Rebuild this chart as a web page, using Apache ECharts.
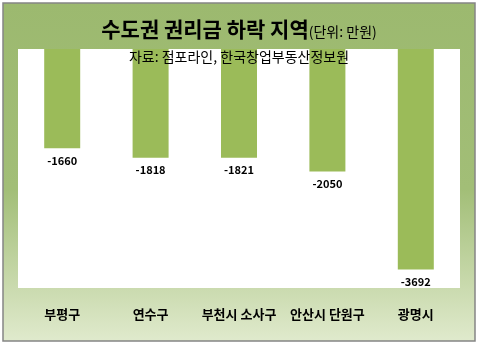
<!DOCTYPE html>
<html>
<head>
<meta charset="utf-8">
<script src="https://cdn.jsdelivr.net/npm/echarts@6/dist/echarts.min.js"></script>
<style>
  html, body { margin: 0; padding: 0; background: #ffffff; }
  #chart { width: 478px; height: 345px; }
</style>
</head>
<body>
<div id="chart"></div>
<script>
// 권리금 하락 지역 (단위: 만원)
const regions = ['부평구', '연수구', '부천시 소사구', '안산시 단원구', '광명시'];
const declines = [-1660, -1818, -1821, -2050, -3692];

const chart = echarts.init(document.getElementById('chart'), null, { renderer: 'canvas' });
const FONT = '"Noto Sans CJK KR", "Noto Sans", sans-serif';

chart.setOption({
  animation: false,
  graphic: [
    {
      type: 'rect',
      z: -10,
      shape: { x: 3, y: 3, width: 472, height: 338 },
      style: {
        fill: new echarts.graphic.LinearGradient(0, 0, 0, 1, [
          { offset: 0, color: '#9cb96f' },
          { offset: 0.55, color: '#a2be77' },
          { offset: 1, color: '#e0eacd' }
        ]),
        stroke: '#858585',
        lineWidth: 1.5
      }
    },
    {
      type: 'text',
      left: 'center',
      top: 19,
      z: 10,
      style: {
        text: '{t|수도권 권리금 하락 지역}{u|(단위: 만원)}',
        rich: {
          t: { fontFamily: FONT, fontSize: 21, fontWeight: 'bold', fill: '#000', verticalAlign: 'bottom' },
          u: { fontFamily: FONT, fontSize: 14, fill: '#000', verticalAlign: 'bottom', padding: [0, 0, 1, 0] }
        }
      }
    },
    {
      type: 'text',
      left: 'center',
      top: 50,
      z: 10,
      style: {
        text: '자료: 점포라인, 한국창업부동산정보원',
        fontFamily: FONT,
        fontSize: 14,
        fill: '#000'
      }
    }
  ],
  grid: {
    left: 18,
    right: 18,
    top: 49,
    bottom: 57,
    show: true,
    backgroundColor: '#ffffff',
    borderWidth: 0,
    containLabel: false
  },
  xAxis: {
    type: 'category',
    data: regions,
    position: 'bottom',
    axisLine: { show: false, onZero: false },
    axisTick: { show: false },
    axisLabel: {
      margin: 20,
      fontFamily: FONT,
      fontSize: 13,
      fontWeight: 'bold',
      color: '#000',
      interval: 0
    }
  },
  yAxis: {
    type: 'value',
    min: -4000,
    max: 0,
    show: false,
    splitLine: { show: false }
  },
  series: [{
    type: 'bar',
    data: declines,
    barWidth: 36,
    itemStyle: { color: '#9bbb59' },
    label: {
      show: true,
      position: 'bottom',
      distance: 7,
      fontFamily: FONT,
      fontSize: 11,
      fontWeight: 'bold',
      color: '#000'
    }
  }]
});
</script>
</body>
</html>
